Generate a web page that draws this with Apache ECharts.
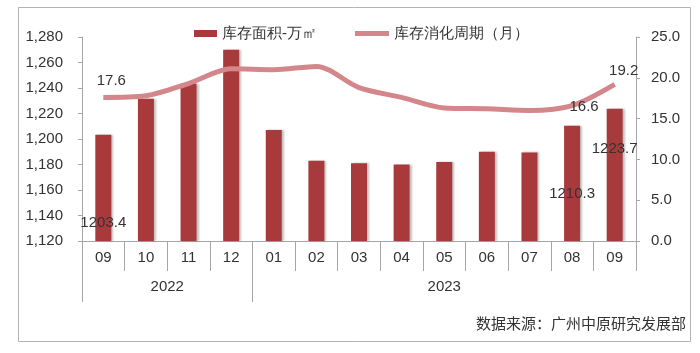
<!DOCTYPE html>
<html style="height: 100%">
<head>
    <meta charset="utf-8">
    <title>库存面积与库存消化周期</title>
    <script type="text/javascript" src="https://cdn.jsdelivr.net/npm/echarts@6/dist/echarts.min.js"></script>
</head>
<body style="height: 100%; margin: 0; background: #fff;">
<div id="container" style="width: 700px; height: 353px;"></div>
<script type="text/javascript">
    // 数据
    var months = ['09', '10', '11', '12', '01', '02', '03', '04', '05', '06', '07', '08', '09'];
    var years = ['2022', '2023'];
    var yearSpans = [4, 9];
    var stockArea = [1203.4, 1231.5, 1243.5, 1270.0, 1207.0, 1183.0, 1181.0, 1180.0, 1182.0, 1190.0, 1189.5, 1210.3, 1223.7];
    var cycleMonths = [17.6, 17.8, 19.3, 21.1, 21.0, 21.4, 18.8, 17.6, 16.3, 16.2, 16.0, 16.6, 19.2];
    var leftTicks = [1120, 1280, 20];
    var rightTicks = [0, 25, 5];

    var font = 'Liberation Sans, Arial, sans-serif';
    var textColor = '#333';
    var axisGray = '#a6a6a6';

    // 年份分隔与居中位置
    var yearBounds = [0];
    var yearCenters = [];
    for (var i = 0; i < yearSpans.length; i++) {
        yearCenters.push(yearBounds[i] + yearSpans[i] / 2);
        yearBounds.push(yearBounds[i] + yearSpans[i]);
    }
    var total = yearBounds[yearBounds.length - 1];

    function fmt1(p) { return p.value.toFixed(1); }

    // 柱子标签（只显示部分）
    var barLabelY = {0: 88, 11: 68, 12: 40};
    var barData = stockArea.map(function (v, i) {
        var item = {value: v};
        if (barLabelY[i] !== undefined) {
            item.label = {
                show: true,
                position: ['50%', barLabelY[i]],
                align: 'center',
                verticalAlign: 'middle',
                color: textColor,
                fontSize: 15,
                fontFamily: font,
                formatter: fmt1
            };
        }
        return item;
    });
    // 折线标签
    var lineLabelOff = {0: [8, -4], 11: [12, 14], 12: [9, -1]};
    var lineData = cycleMonths.map(function (v, i) {
        var item = {value: v};
        if (lineLabelOff[i]) {
            item.label = {
                show: true,
                position: 'top',
                offset: lineLabelOff[i],
                color: textColor,
                fontSize: 15,
                fontFamily: font,
                formatter: fmt1
            };
        }
        return item;
    });

    var myChart = echarts.init(document.getElementById('container'));
    var option = {
        animation: false,
        textStyle: {fontFamily: font},
        grid: {left: 82, right: 64, top: 37, bottom: 112},
        legend: [{
            data: ['库存面积-万㎡'],
            left: 189, top: 21,
            itemWidth: 23, itemHeight: 7, itemGap: 6,
            icon: 'rect',
            textStyle: {color: textColor, fontSize: 15, fontFamily: font}
        }, {
            data: ['库存消化周期（月）'],
            left: 350, top: 21,
            itemWidth: 34, itemHeight: 5, itemGap: 4,
            icon: 'rect',
            textStyle: {color: textColor, fontSize: 15, fontFamily: font}
        }],
        xAxis: [{
            type: 'category',
            data: months,
            boundaryGap: true,
            position: 'bottom',
            axisLine: {show: true, lineStyle: {color: axisGray, width: 1}},
            axisTick: {show: true, alignWithLabel: false, length: 30, lineStyle: {color: axisGray}},
            axisLabel: {color: textColor, fontSize: 15, fontFamily: font, margin: 9, interval: 0}
        }, {
            type: 'value',
            min: 0, max: total,
            position: 'bottom',
            offset: 0,
            splitLine: {show: false},
            axisLine: {show: false},
            axisTick: {show: true, length: 61, customValues: yearBounds.slice(0, yearBounds.length - 1), lineStyle: {color: axisGray}},
            axisLabel: {
                show: true,
                customValues: yearCenters,
                margin: 38,
                color: textColor, fontSize: 15, fontFamily: font,
                formatter: function (v) {
                    for (var k = 0; k < yearCenters.length; k++) {
                        if (Math.abs(yearCenters[k] - v) < 0.01) return years[k];
                    }
                    return '';
                }
            }
        }],
        yAxis: [{
            type: 'value',
            min: leftTicks[0], max: leftTicks[1], interval: leftTicks[2],
            splitLine: {show: false},
            axisLine: {show: true, lineStyle: {color: axisGray}},
            axisTick: {show: true, length: 4, lineStyle: {color: axisGray}},
            axisLabel: {
                color: textColor, fontSize: 15, fontFamily: font, margin: 19,
                formatter: function (v) { return v.toLocaleString('en-US'); }
            }
        }, {
            type: 'value',
            min: rightTicks[0], max: rightTicks[1], interval: rightTicks[2],
            position: 'right',
            splitLine: {show: false},
            axisLine: {show: true, lineStyle: {color: axisGray}},
            axisTick: {show: true, length: 4, lineStyle: {color: axisGray}},
            axisLabel: {
                color: textColor, fontSize: 15, fontFamily: font, margin: 15,
                formatter: function (v) { return v.toFixed(1); }
            }
        }],
        series: [{
            name: '库存面积-万㎡',
            type: 'bar',
            data: barData,
            barWidth: 16,
            itemStyle: {
                color: '#a93a3c',
                shadowColor: 'rgba(0,0,0,0.25)',
                shadowBlur: 2,
                shadowOffsetX: 2,
                shadowOffsetY: 0
            },
            z: 2
        }, {
            name: '库存消化周期（月）',
            type: 'line',
            yAxisIndex: 1,
            data: lineData,
            smooth: 0.3,
            showSymbol: true,
            symbol: 'circle',
            symbolSize: 0.1,
            lineStyle: {color: '#d4878b', width: 5},
            itemStyle: {color: '#d4878b'},
            z: 3
        }],
        graphic: [{
            type: 'rect',
            shape: {x: 18.5, y: 7.5, width: 672, height: 334},
            style: {fill: 'none', stroke: '#b3b3b3', lineWidth: 1},
            silent: true
        }, {
            type: 'text',
            right: 14, top: 316,
            style: {text: '数据来源：广州中原研究发展部', fill: textColor, font: '15px Noto Sans CJK SC'}
        }]
    };
    myChart.setOption(option);
</script>
</body>
</html>
